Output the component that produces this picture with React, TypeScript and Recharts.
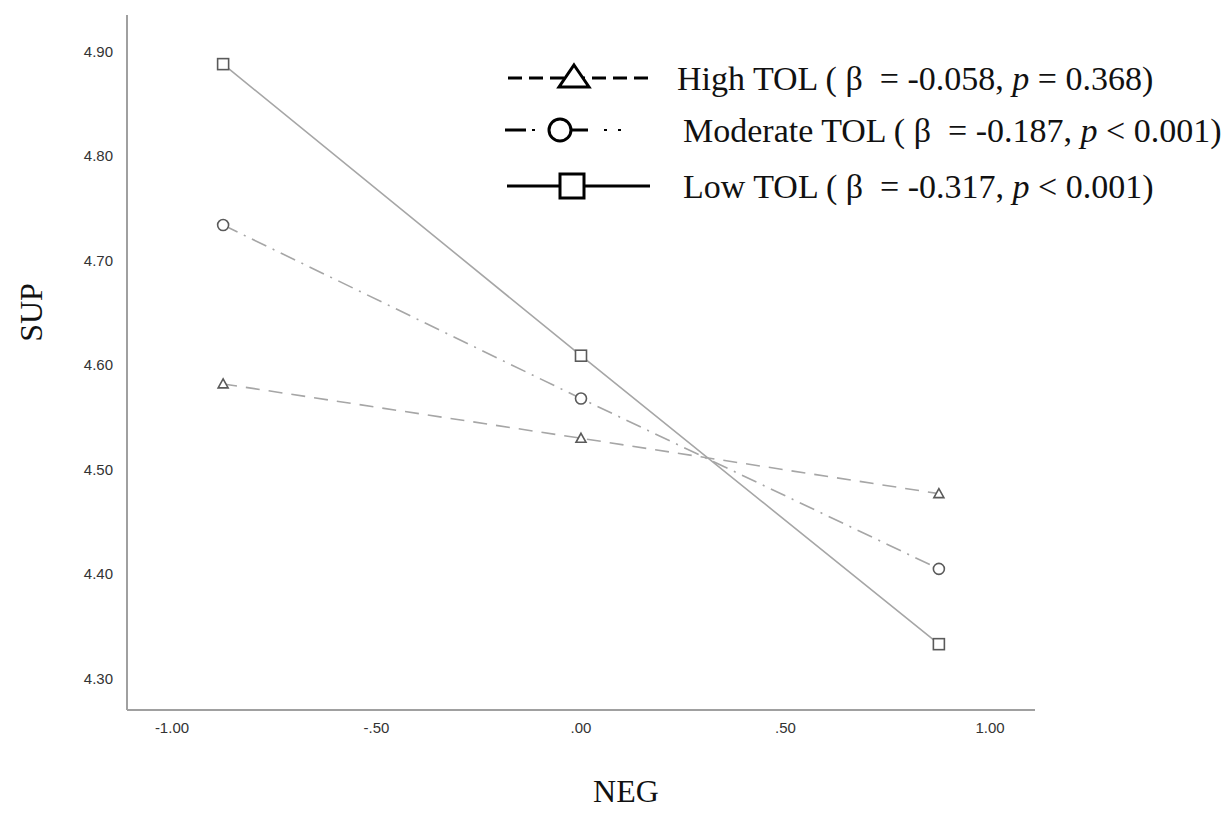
import React from 'react';
import { LineChart, Line, XAxis, YAxis, Label } from 'recharts';

const negValues = [-0.875, 0, 0.875];
const highTol = [4.582, 4.53, 4.477];
const moderateTol = [4.734, 4.568, 4.405];
const lowTol = [4.888, 4.609, 4.333];
const xTicks = [-1, -0.5, 0, 0.5, 1];
const yTicks = [4.3, 4.4, 4.5, 4.6, 4.7, 4.8, 4.9];
const legendLabels = [
  { pre: 'High TOL ( \u03B2  = -0.058, ', p: 'p', post: ' = 0.368)' },
  { pre: 'Moderate TOL ( \u03B2  = -0.187, ', p: 'p', post: ' < 0.001)' },
  { pre: 'Low TOL ( \u03B2  = -0.317, ', p: 'p', post: ' < 0.001)' },
];

const data = negValues.map((x, i) => ({
  neg: x,
  high: highTol[i],
  moderate: moderateTol[i],
  low: lowTol[i],
}));

const LINE = '#a6a6a6';
const MARK = '#5a5a5a';

const TriDot = (props: any) => {
  const { cx, cy } = props;
  if (cx == null || cy == null) return null;
  return (
    <path
      d={`M${cx},${cy - 5} L${cx + 5},${cy + 4} L${cx - 5},${cy + 4} Z`}
      fill="#fff"
      stroke={MARK}
      strokeWidth={1.6}
    />
  );
};
const CircDot = (props: any) => {
  const { cx, cy } = props;
  if (cx == null || cy == null) return null;
  return <circle cx={cx} cy={cy} r={5.5} fill="#fff" stroke={MARK} strokeWidth={1.6} />;
};
const SqDot = (props: any) => {
  const { cx, cy } = props;
  if (cx == null || cy == null) return null;
  return <rect x={cx - 5.5} y={cy - 5.5} width={11} height={11} fill="#fff" stroke={MARK} strokeWidth={1.6} />;
};

const fmtX = (v: number) => {
  const s = Math.abs(v).toFixed(2);
  const t = s.startsWith('0') ? s.slice(1) : s;
  return (v < 0 ? '-' : '') + t;
};
const fmtY = (v: number) => v.toFixed(2);

const LegendOverlay = () => {
  const rowY = [78, 130, 186];
  const textX = [677, 683, 683];
  return (
    <svg
      width={1232}
      height={240}
      style={{ position: 'absolute', left: 0, top: 0, pointerEvents: 'none' }}
    >
      <g stroke="#000" strokeWidth={3} fill="none">
        {/* High: dashed with triangle */}
        <line x1={508} y1={rowY[0]} x2={650} y2={rowY[0]} strokeDasharray="14 7" />
        <path d={`M574,${rowY[0] - 13} L589,${rowY[0] + 9} L559,${rowY[0] + 9} Z`} fill="#fff" />
        {/* Moderate: dash-dot with circle */}
        <line x1={505} y1={rowY[1]} x2={526} y2={rowY[1]} />
        <line x1={532} y1={rowY[1]} x2={535} y2={rowY[1]} strokeWidth={2} />
        <line x1={560} y1={rowY[1]} x2={588} y2={rowY[1]} />
        <line x1={604} y1={rowY[1]} x2={607} y2={rowY[1]} strokeWidth={2} />
        <line x1={618} y1={rowY[1]} x2={621} y2={rowY[1]} strokeWidth={2} />
        <circle cx={560} cy={rowY[1]} r={11} fill="#fff" />
        {/* Low: solid with square */}
        <line x1={507} y1={rowY[2]} x2={650} y2={rowY[2]} />
        <rect x={560} y={rowY[2] - 12} width={24} height={24} fill="#fff" />
      </g>
      {[0, 1, 2].map((r) => (
        <text
          key={r}
          x={textX[r]}
          y={rowY[r]}
          dy="0.35em"
          fontFamily="'Liberation Serif', 'Times New Roman', serif"
          fontSize={34}
          fill="#111"
          style={{ whiteSpace: 'pre' }}
        >
          {legendLabels[r].pre}
          <tspan fontStyle="italic">{legendLabels[r].p}</tspan>
          {legendLabels[r].post}
        </text>
      ))}
    </svg>
  );
};

export default function App() {
  return (
    <div style={{ position: 'absolute', left: 0, top: 0, width: 1232, height: 814, background: '#fff' }}>
      <LineChart
        width={1232}
        height={814}
        data={data}
        margin={{ top: 15, right: 197, bottom: 74, left: 67 }}
      >
        <XAxis
          dataKey="neg"
          type="number"
          domain={[-1.11, 1.11]}
          ticks={xTicks}
          tickFormatter={fmtX}
          tickLine={false}
          axisLine={{ stroke: '#a0a0a0', strokeWidth: 2 }}
          tick={{ fill: '#333', fontSize: 15, fontFamily: "'Liberation Sans', Arial, sans-serif" }}
          height={30}
          tickMargin={6}
        >
          <Label
            value="NEG"
            position="insideBottom"
            offset={-62}
            dx={45}
            style={{ fontFamily: "'Liberation Serif', 'Times New Roman', serif", fontSize: 32, fill: '#111' }}
          />
        </XAxis>
        <YAxis
          type="number"
          domain={[4.27, 4.935]}
          ticks={yTicks}
          tickFormatter={fmtY}
          tickLine={false}
          axisLine={{ stroke: '#a0a0a0', strokeWidth: 2 }}
          tick={{ fill: '#333', fontSize: 15, fontFamily: "'Liberation Sans', Arial, sans-serif" }}
          width={60}
          tickMargin={8}
        >
          <Label
            value="SUP"
            angle={-90}
            position="center"
            dx={-66}
            dy={-50}
            style={{ fontFamily: "'Liberation Serif', 'Times New Roman', serif", fontSize: 32, fill: '#111', textAnchor: 'middle' }}
          />
        </YAxis>
        <Line
          dataKey="high"
          stroke={LINE}
          strokeWidth={1.6}
          strokeDasharray="14 9"
          dot={<TriDot />}
          activeDot={false}
          isAnimationActive={false}
        />
        <Line
          dataKey="moderate"
          stroke={LINE}
          strokeWidth={1.6}
          strokeDasharray="16 7 2 7"
          dot={<CircDot />}
          activeDot={false}
          isAnimationActive={false}
        />
        <Line
          dataKey="low"
          stroke={LINE}
          strokeWidth={1.6}
          dot={<SqDot />}
          activeDot={false}
          isAnimationActive={false}
        />
      </LineChart>
      <LegendOverlay />
    </div>
  );
}
